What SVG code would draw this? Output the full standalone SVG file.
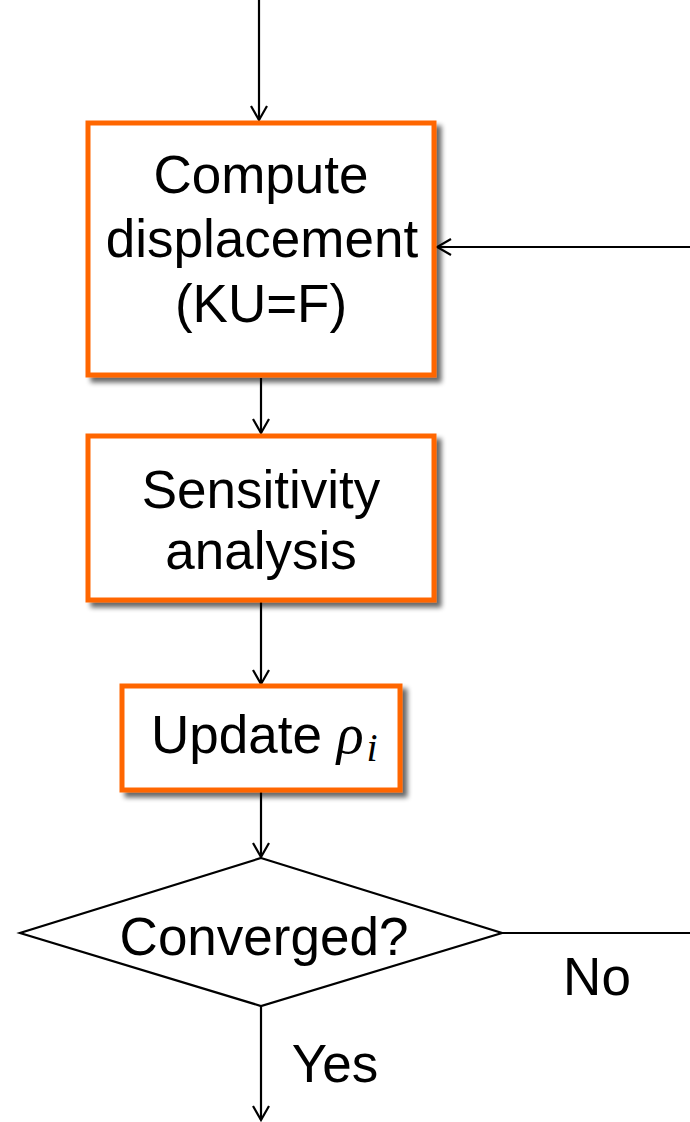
<svg xmlns="http://www.w3.org/2000/svg" width="690" height="1122" viewBox="0 0 690 1122">
<defs>
<style>
.box{fill:#fff;stroke:#FF6600;stroke-width:5;}
.ln{stroke:#000;stroke-width:2.2;fill:none;}
.t{font-family:"Liberation Sans",Arial,sans-serif;font-size:53px;fill:#000;text-anchor:middle;}
.m{font-family:"Liberation Serif","DejaVu Serif",serif;font-style:italic;}
</style>
<marker id="arr" viewBox="0 0 20 20" refX="18" refY="10" markerWidth="20" markerHeight="20" markerUnits="userSpaceOnUse" orient="auto">
<path d="M4,2 L18,10 L4,18" fill="none" stroke="#000" stroke-width="2.2"/>
</marker>
<filter id="sh" x="-10%" y="-10%" width="130%" height="130%">
<feGaussianBlur in="SourceAlpha" stdDeviation="2.5"/>
<feOffset dx="5" dy="5" result="b"/>
<feComponentTransfer><feFuncA type="linear" slope="0.6"/></feComponentTransfer>
<feMerge><feMergeNode/><feMergeNode in="SourceGraphic"/></feMerge>
</filter>
</defs>
<rect width="690" height="1122" fill="#fff"/>
<g id="connectors">
<line class="ln" x1="259" y1="0" x2="259" y2="120" marker-end="url(#arr)"/>
<line class="ln" x1="690" y1="247" x2="437" y2="247" marker-end="url(#arr)"/>
<line class="ln" x1="261" y1="378" x2="261" y2="433" marker-end="url(#arr)"/>
<line class="ln" x1="261" y1="602" x2="261" y2="684" marker-end="url(#arr)"/>
<line class="ln" x1="261" y1="792" x2="261" y2="857" marker-end="url(#arr)"/>
<line class="ln" x1="502" y1="933" x2="690" y2="933"/>
<line class="ln" x1="261" y1="1006" x2="261" y2="1120" marker-end="url(#arr)"/>
<text class="t" x="597" y="995">No</text>
<text class="t" x="335" y="1082">Yes</text>
</g>
<g id="compute">
<rect class="box" x="88" y="123" width="346" height="252" filter="url(#sh)"/>
<text class="t" x="261" y="193">Compute</text>
<text class="t" x="262" y="257">displacement</text>
<text class="t" x="261" y="322">(KU=F)</text>
</g>
<g id="sensitivity">
<rect class="box" x="88" y="436" width="346" height="164" filter="url(#sh)"/>
<text class="t" x="261" y="508">Sensitivity</text>
<text class="t" x="261" y="569">analysis</text>
</g>
<g id="update">
<rect class="box" x="122" y="686" width="278" height="104" filter="url(#sh)"/>
<text class="t" x="151" y="753" style="text-anchor:start">Update <tspan class="m" font-size="56">ρ</tspan><tspan class="m" font-size="40" dx="3" dy="8">i</tspan></text>
</g>
<g id="converged">
<polygon points="261,858 502,933 261,1006 20,933" fill="#fff" stroke="#000" stroke-width="2.2"/>
<text class="t" x="264" y="955">Converged?</text>
</g>
</svg>
